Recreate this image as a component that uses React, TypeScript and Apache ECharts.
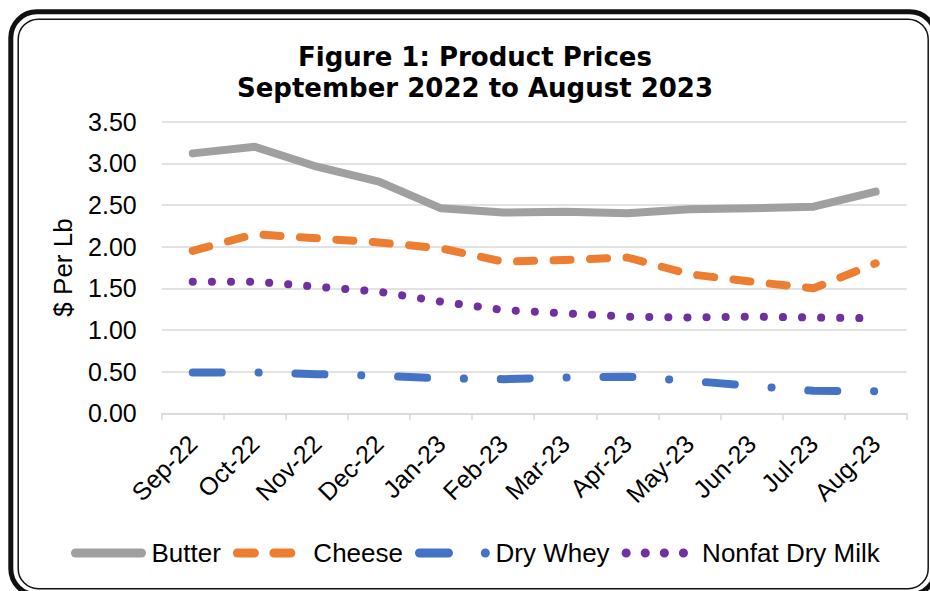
import React, { useEffect, useRef } from 'react';
import * as echarts from 'echarts';

const titleLines = ['Figure 1: Product Prices', 'September 2022 to August 2023'];
const yAxisName = '$ Per Lb';
const months = ['Sep-22', 'Oct-22', 'Nov-22', 'Dec-22', 'Jan-23', 'Feb-23', 'Mar-23', 'Apr-23', 'May-23', 'Jun-23', 'Jul-23', 'Aug-23'];
const butter = [3.12, 3.2, 2.96, 2.78, 2.46, 2.41, 2.42, 2.4, 2.45, 2.46, 2.48, 2.66];
const cheese = [1.95, 2.15, 2.1, 2.05, 1.98, 1.82, 1.84, 1.87, 1.67, 1.58, 1.5, 1.8];
const dryWhey = [0.49, 0.49, 0.47, 0.45, 0.42, 0.41, 0.43, 0.44, 0.39, 0.33, 0.27, 0.265];
const nonfatDryMilk = [1.58, 1.58, 1.52, 1.46, 1.34, 1.24, 1.2, 1.16, 1.15, 1.16, 1.15, 1.14];
const yTicks = [0, 0.5, 1, 1.5, 2, 2.5, 3, 3.5];

const FONT = "'Liberation Sans', Arial, sans-serif";

export default function App() {
  const ref = useRef<HTMLDivElement>(null);
  useEffect(() => {
    const chart = echarts.init(ref.current!, null, { renderer: 'svg' });
    const mk = (name: string, data: number[], color: string, type: any) => ({
      name,
      type: 'line',
      data,
      symbol: 'none',
      smooth: false,
      z: 3,
      lineStyle: { color, width: 8, type, cap: 'round', join: 'round' },
      itemStyle: { color },
    });
    chart.setOption({
      animation: false,
      backgroundColor: '#ffffff',
      title: {
        text: titleLines.join('\n'),
        left: 475,
        top: 41.7,
        padding: 0,
        textAlign: 'center',
        textStyle: {
          fontFamily: "'DejaVu Sans', Verdana, sans-serif",
          fontWeight: 'bold',
          fontSize: 26,
          lineHeight: 31,
          color: '#000',
        },
      },
      graphic: [
        {
          type: 'rect',
          silent: true,
          z: -10,
          shape: { x: 10.8, y: 11.8, width: 925, height: 583, r: 26 },
          style: { fill: 'none', stroke: '#111', lineWidth: 5 },
        },
        {
          type: 'rect',
          silent: true,
          z: -10,
          shape: { x: 18.2, y: 19.2, width: 910, height: 569.5, r: 20 },
          style: { fill: 'none', stroke: '#111', lineWidth: 1.5 },
        },
      ],
      legend: {
        left: 71,
        top: 540,
        padding: 0,
        itemWidth: 66,
        itemHeight: 14,
        itemGap: 12,
        lineStyle: { width: 9 },
        itemStyle: { opacity: 0 },
        textStyle: { fontFamily: FONT, fontSize: 26, color: '#000', padding: [0, 0, 0, 5] },
        data: ['Butter', 'Cheese', 'Dry Whey', 'Nonfat Dry Milk'],
      },
      grid: {
        left: 161.7,
        right: 23.3,
        top: 121.7,
        bottom: 177.7,
        containLabel: false,
        outerBoundsMode: 'none',
      },
      xAxis: {
        type: 'category',
        data: months,
        boundaryGap: true,
        axisLine: { lineStyle: { color: '#d9d9d9', width: 1.5 } },
        axisTick: { show: true, alignWithLabel: false, length: 7, lineStyle: { color: '#d9d9d9', width: 1.5 } },
        axisLabel: {
          rotate: 45,
          interval: 0,
          margin: 26,
          fontFamily: FONT,
          fontSize: 25,
          color: '#000',
        },
      },
      yAxis: {
        type: 'value',
        min: yTicks[0],
        max: yTicks[yTicks.length - 1],
        interval: 0.5,
        name: yAxisName,
        nameLocation: 'middle',
        nameGap: 86,
        nameRotate: 90,
        nameTextStyle: { fontFamily: FONT, fontSize: 26, color: '#000' },
        axisLine: { show: false },
        axisTick: { show: false },
        axisLabel: {
          margin: 25,
          fontFamily: FONT,
          fontSize: 25,
          color: '#000',
          formatter: (v: number) => v.toFixed(2),
        },
        splitLine: { lineStyle: { color: '#d9d9d9', width: 1.5 } },
      },
      series: [
        mk('Butter', butter, '#a0a0a0', 'solid'),
        mk('Cheese', cheese, '#ed7d31', [17, 19.5]),
        mk('Dry Whey', dryWhey, '#4472c4', [29, 36.8, 0.1, 36.8]),
        mk('Nonfat Dry Milk', nonfatDryMilk, '#7030a0', [0.1, 19]),
      ],
    });
    return () => chart.dispose();
  }, []);
  return (
    <div
      ref={ref}
      style={{ position: 'absolute', left: 0, top: 0, width: 930, height: 591, background: '#fff' }}
    />
  );
}
